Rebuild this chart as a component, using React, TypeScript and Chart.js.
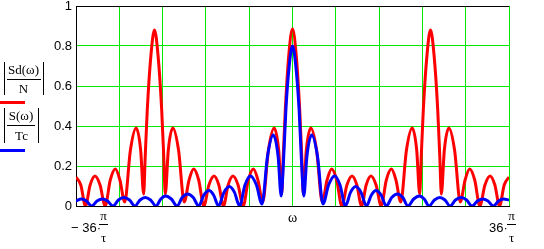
import React, { useEffect, useRef } from 'react';
import { Chart, registerables } from 'chart.js';

Chart.register(...registerables);

// ω in units of π/τ
const redX = [-36, -35.2, -34.43, -33.65, -32.85, -32.0, -31.15, -30.3, -29.45, -28.7,
  -27.9, -26.95, -26.0, -25.25, -24.75, -24.5, -24.15, -23.55, -22.95, -22.35,
  -21.75, -21.4, -21.15, -20.65, -19.9, -18.95, -18.0, -17.2, -16.45, -15.6,
  -14.75, -13.9, -13.05, -12.25, -11.48, -10.7, -9.9, -9.05, -8.2, -7.35,
  -6.5, -5.75, -4.95, -4.0, -3.05, -2.3, -1.8, -1.55, -1.2, -0.6, 0,
  0.6, 1.2, 1.55, 1.8, 2.3, 3.05, 4.0, 4.95, 5.75, 6.5,
  7.35, 8.2, 9.05, 9.9, 10.7, 11.48, 12.25, 13.05, 13.9, 14.75,
  15.6, 16.45, 17.2, 18.0, 18.95, 19.9, 20.65, 21.15, 21.4, 21.75,
  22.35, 22.95, 23.55, 24.15, 24.5, 24.75, 25.25, 26.0, 26.95, 27.9,
  28.7, 29.45, 30.3, 31.15, 32.0, 32.85, 33.65, 34.43, 35.2, 36];
const redY = [0.145, 0.105, 0, 0.105, 0.15, 0.105, 0, 0.13, 0.185, 0.13,
  0.02, 0.28, 0.39, 0.28, 0.06, 0.24, 0.48, 0.75, 0.88, 0.75,
  0.48, 0.24, 0.06, 0.28, 0.39, 0.28, 0.02, 0.13, 0.185, 0.13,
  0, 0.105, 0.15, 0.105, 0, 0.105, 0.15, 0.105, 0, 0.13,
  0.185, 0.13, 0.02, 0.28, 0.39, 0.28, 0.06, 0.24, 0.48, 0.76, 0.885,
  0.76, 0.48, 0.24, 0.06, 0.28, 0.39, 0.28, 0.02, 0.13, 0.185,
  0.13, 0, 0.105, 0.15, 0.105, 0, 0.105, 0.15, 0.105, 0,
  0.13, 0.185, 0.13, 0.02, 0.28, 0.39, 0.28, 0.06, 0.24, 0.48,
  0.75, 0.88, 0.75, 0.48, 0.24, 0.06, 0.28, 0.39, 0.28, 0.02,
  0.13, 0.185, 0.13, 0, 0.105, 0.15, 0.105, 0, 0.105, 0.145];

const blueX = [-36, -35.1, -34.25, -33.4, -32.5, -31.65, -30.75, -29.85, -28.95, -28.05,
  -27.1, -26.2, -25.35, -24.5, -23.6, -22.7, -21.9, -21.1, -20.15, -19.2,
  -18.35, -17.45, -16.5, -15.6, -14.75, -13.9, -13.1, -12.3, -11.4, -10.5,
  -9.65, -8.8, -7.9, -7.0, -6.0, -5.07, -4.15, -3.19, -2.4, -1.88,
  -1.5, -1.1, -0.55, 0, 0.55, 1.1, 1.5,
  1.88, 2.4, 3.19, 4.15, 5.07, 6.0, 7.0, 7.9, 8.8, 9.65,
  10.5, 11.4, 12.3, 13.1, 13.9, 14.75, 15.6, 16.5, 17.45, 18.35,
  19.2, 20.15, 21.1, 21.9, 22.7, 23.6, 24.5, 25.35, 26.2, 27.1,
  28.05, 28.95, 29.85, 30.75, 31.65, 32.5, 33.4, 34.25, 35.1, 36];
const blueY = [0.025, 0.035, 0.025, 0, 0.025, 0.035, 0.025, 0, 0.03, 0.042,
  0.03, 0, 0.03, 0.043, 0.03, 0, 0.035, 0.05, 0.035, 0,
  0.042, 0.06, 0.042, 0, 0.054, 0.077, 0.054, 0, 0.068, 0.097,
  0.068, 0, 0.105, 0.15, 0.105, 0.01, 0.25, 0.355, 0.25, 0.05,
  0.22, 0.48, 0.70, 0.80, 0.70, 0.48, 0.22,
  0.05, 0.25, 0.355, 0.25, 0.01, 0.105, 0.15, 0.105, 0, 0.068,
  0.097, 0.068, 0, 0.054, 0.077, 0.054, 0, 0.042, 0.06, 0.042,
  0, 0.035, 0.05, 0.035, 0, 0.03, 0.043, 0.03, 0, 0.03,
  0.042, 0.03, 0, 0.025, 0.035, 0.025, 0, 0.025, 0.035, 0.03];

const xGridValues = [-36, -28.8, -21.6, -14.4, -7.2, 0, 7.2, 14.4, 21.6, 28.8, 36];
const yTickStep = 0.2;
const legendNumerators = ['Sd(ω)', 'S(ω)'];
const legendDenominators = ['N', 'Tc'];
const xEndPrefixes = ['− 36·', '36·'];
const fracTop = 'π';
const fracBottom = 'τ';
const xTitle = 'ω';

const GRID = 'rgb(0,235,0)';
const SANS = '"Liberation Sans", Arial, sans-serif';
const SERIF = '"Liberation Serif", "Times New Roman", serif';

const textPlugin = {
  id: 'mathcadTexts',
  afterDraw(chart: any) {
    const ctx = chart.ctx as CanvasRenderingContext2D;
    ctx.save();
    ctx.fillStyle = '#000';
    ctx.strokeStyle = '#000';
    ctx.lineWidth = 1;
    ctx.textBaseline = 'alphabetic';
    ctx.textAlign = 'center';
    const hline = (x1: number, x2: number, y: number) => {
      ctx.beginPath(); ctx.moveTo(x1, y); ctx.lineTo(x2, y); ctx.stroke();
    };
    const vline = (x: number, y1: number, y2: number) => {
      ctx.beginPath(); ctx.moveTo(x, y1); ctx.lineTo(x, y2); ctx.stroke();
    };
    // legend entry 1
    ctx.font = '13px ' + SERIF;
    ctx.fillText(legendNumerators[0], 23.5, 74);
    ctx.fillText(legendDenominators[0], 23.5, 92.5);
    hline(7, 41, 79.5);
    vline(4.5, 62, 95);
    vline(43.5, 62, 95);
    ctx.fillStyle = '#ff0000';
    ctx.fillRect(0, 101, 25, 3);
    // legend entry 2
    ctx.fillStyle = '#000';
    ctx.fillText(legendNumerators[1], 21, 120);
    ctx.fillText(legendDenominators[1], 21.5, 140);
    hline(7, 35, 125.5);
    vline(4.5, 108, 143);
    vline(38.5, 108, 143);
    ctx.fillStyle = '#0000ff';
    ctx.fillRect(0, 149, 25, 3);
    ctx.fillStyle = '#000';
    // x axis labels
    ctx.font = '13px ' + SANS;
    ctx.textAlign = 'left';
    ctx.fillText(xEndPrefixes[0], 71, 231.5);
    ctx.fillText(xEndPrefixes[1], 489, 231.5);
    ctx.textAlign = 'center';
    ctx.font = '13px ' + SERIF;
    ctx.fillText(fracTop, 103.5, 219.5);
    ctx.fillText(fracBottom, 103.5, 241.5);
    hline(99, 108, 224.5);
    ctx.fillText(fracTop, 511.5, 219.5);
    ctx.fillText(fracBottom, 511.5, 241.5);
    hline(507, 516, 224.5);
    ctx.font = '14px ' + SERIF;
    const xs = chart.scales.x;
    ctx.fillText(xTitle, xs.getPixelForValue(0), 222);
    ctx.restore();
  },
};

export default function App() {
  const ref = useRef<HTMLCanvasElement>(null);
  useEffect(() => {
    document.body.style.margin = '0';
    const canvas = ref.current as HTMLCanvasElement;
    const chart = new Chart(canvas, {
      type: 'line',
      data: {
        datasets: [
          {
            label: 'S',
            data: blueX.map((x, i) => ({ x, y: blueY[i] })),
            borderColor: '#0000ff',
            borderWidth: 3,
            pointRadius: 0,
            fill: false,
            cubicInterpolationMode: 'monotone',
            order: 0,
          },
          {
            label: 'Sd',
            data: redX.map((x, i) => ({ x, y: redY[i] })),
            borderColor: '#ff0000',
            borderWidth: 3,
            pointRadius: 0,
            fill: false,
            cubicInterpolationMode: 'monotone',
            order: 1,
          },
        ],
      },
      options: {
        responsive: false,
        animation: false,
        devicePixelRatio: 1,
        events: [],
        layout: { padding: { left: 0, right: 35, top: 6, bottom: 43 } },
        plugins: { legend: { display: false }, tooltip: { enabled: false } },
        scales: {
          x: {
            type: 'linear',
            min: -36,
            max: 36,
            afterBuildTicks: (s: any) => { s.ticks = xGridValues.map((v) => ({ value: v })); },
            ticks: { display: false },
            grid: {
              color: (c: any) => (c.tick && c.tick.value === -36 ? '#000' : GRID),
              drawTicks: false,
              lineWidth: 1,
            },
            border: { color: '#000', width: 1 },
            afterFit: (s: any) => { s.height = 0; s.paddingLeft = 0; s.paddingRight = 0; },
          },
          y: {
            type: 'linear',
            min: 0,
            max: 1,
            ticks: {
              stepSize: yTickStep,
              font: { family: SANS, size: 13 },
              color: '#000',
              padding: 4,
              callback: (v: any) => String(Math.round(Number(v) * 10) / 10),
            },
            grid: {
              color: (c: any) => (c.tick && (c.tick.value === 1 || c.tick.value === 0) ? '#000' : GRID),
              drawTicks: false,
              lineWidth: 1,
            },
            border: { color: '#000', width: 1 },
            afterFit: (s: any) => { s.width = 76; s.paddingTop = 0; s.paddingBottom = 0; },
          },
        },
      } as any,
      plugins: [textPlugin],
    });
    return () => chart.destroy();
  }, []);
  return (
    <div style={{ width: 544, height: 249, background: '#fff' }}>
      <canvas ref={ref} width={544} height={249} style={{ display: 'block' }} />
    </div>
  );
}
